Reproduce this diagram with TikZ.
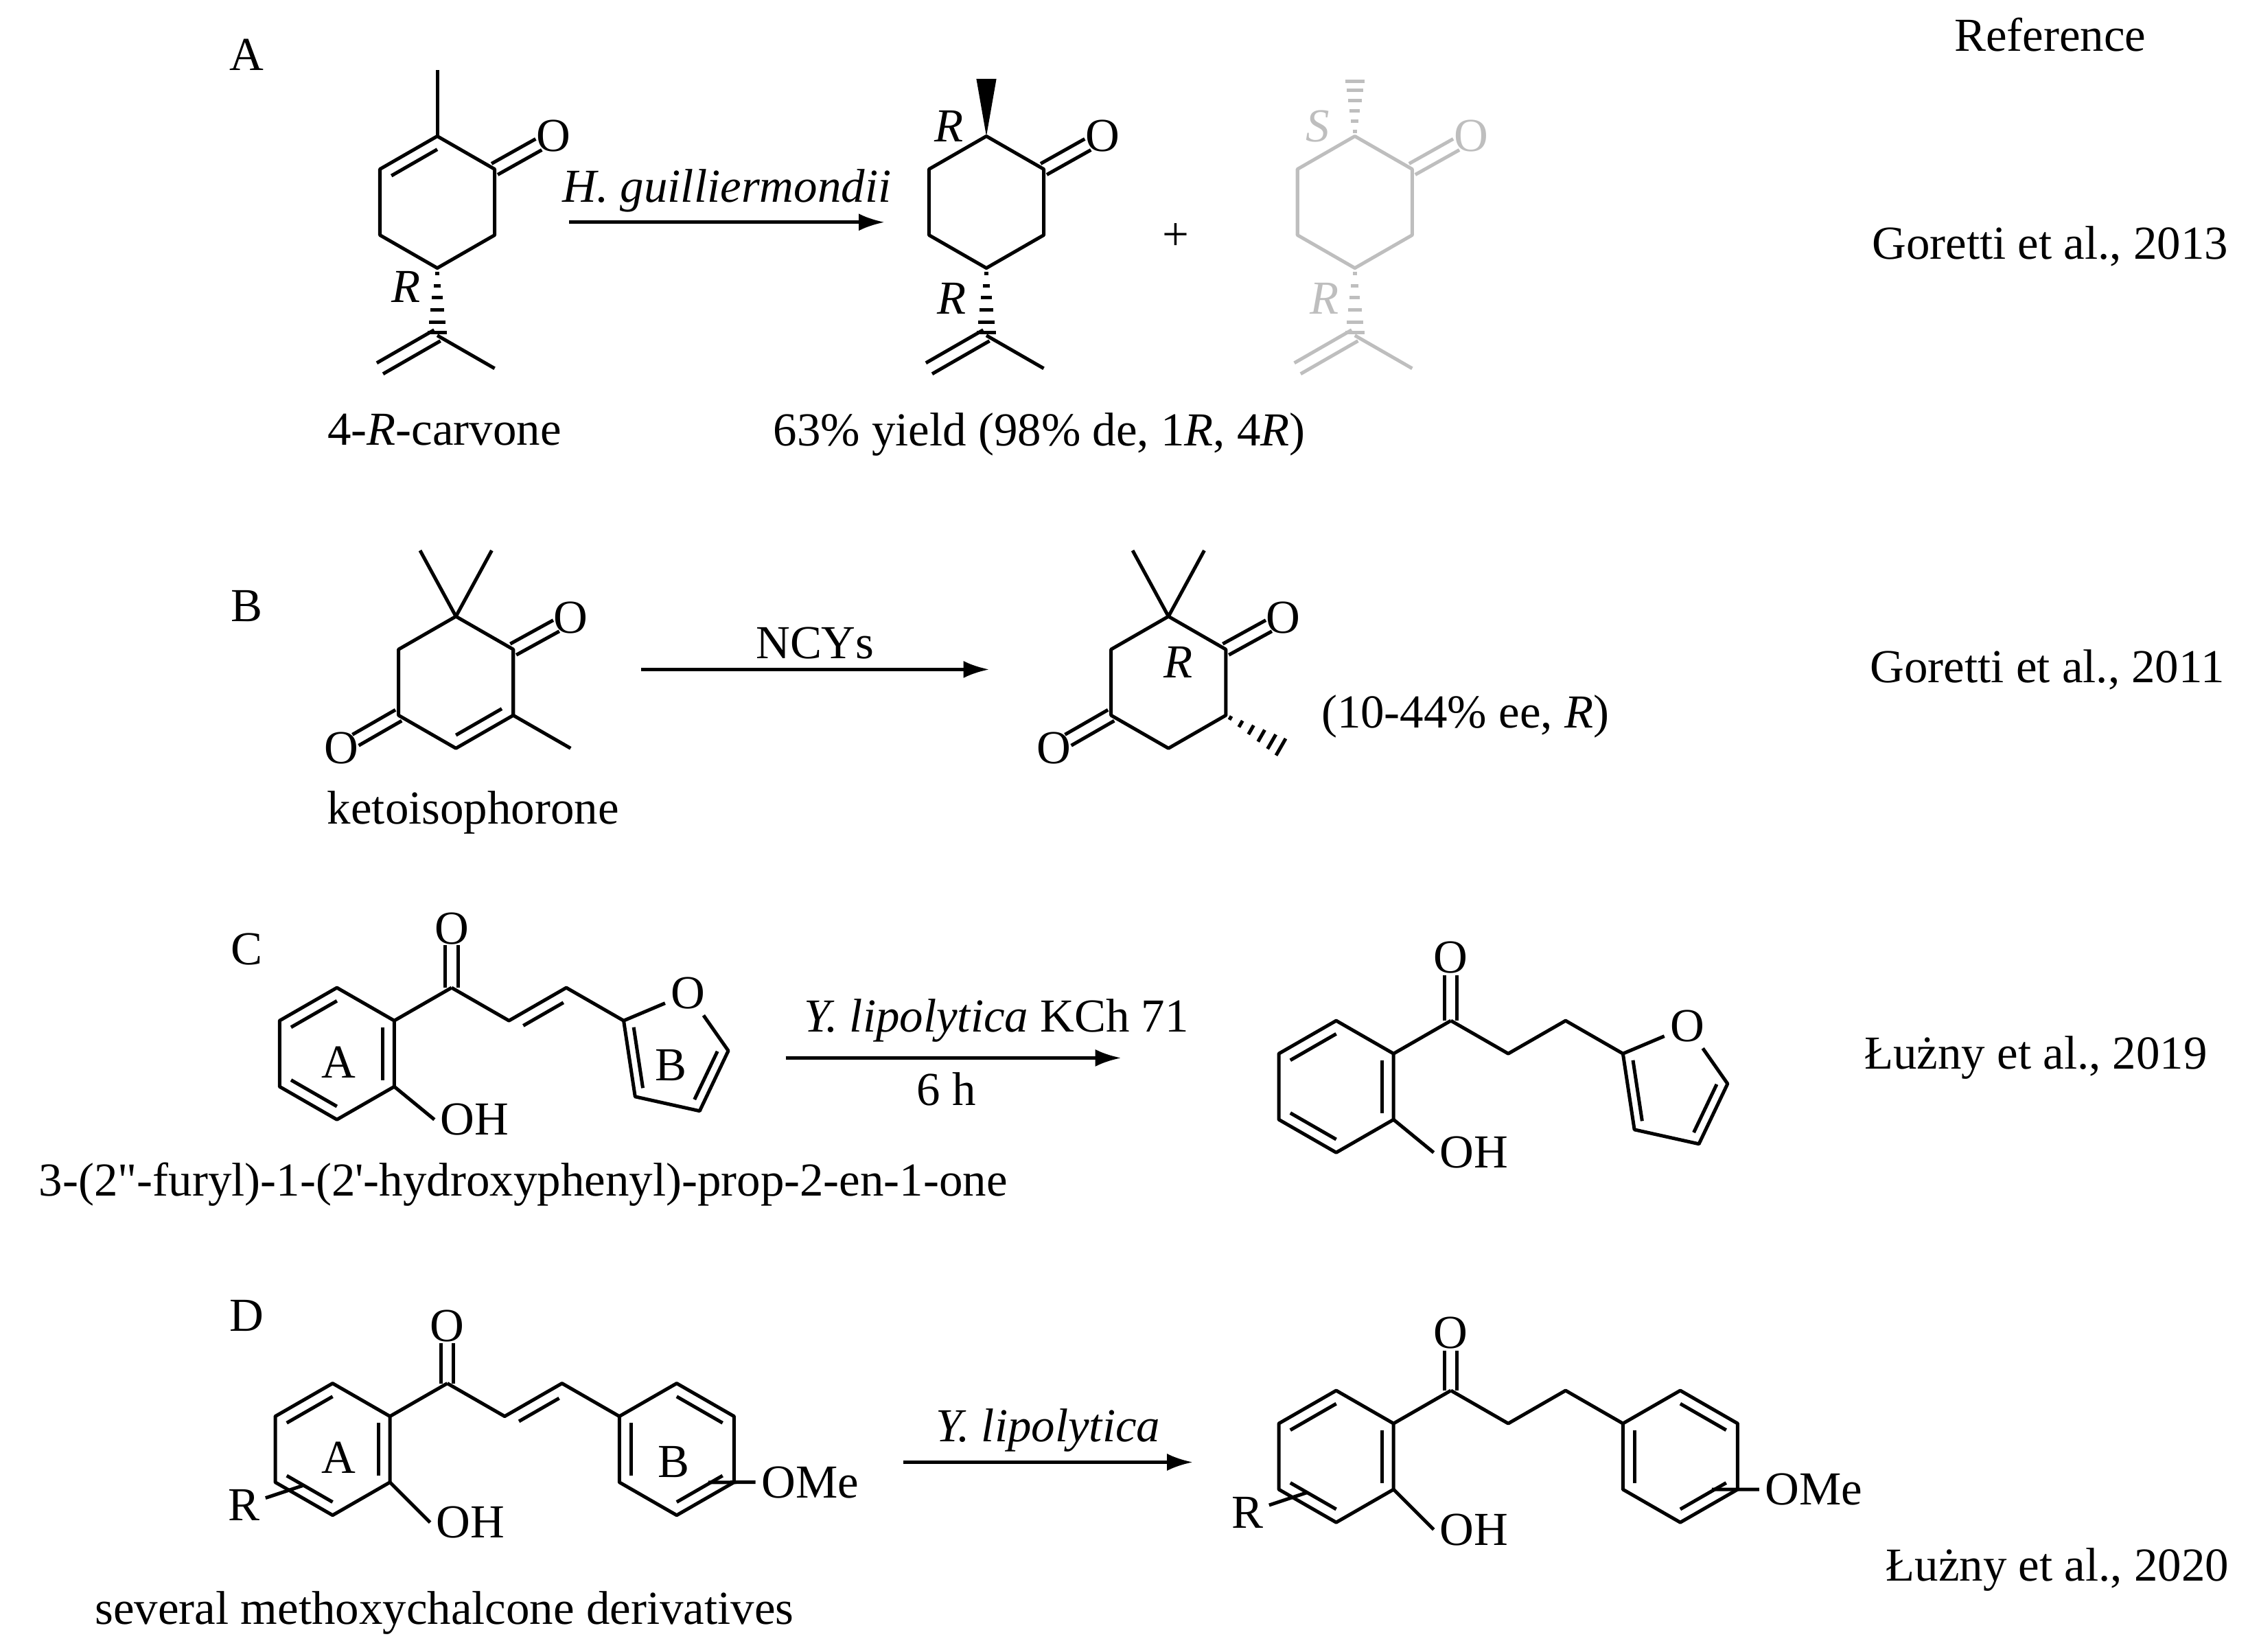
\documentclass[tikz,border=0pt]{standalone}
\usepackage{fontspec}
\setmainfont{Liberation Serif}
\newfontfamily\qf{Liberation Serif}
\usetikzlibrary{calc,arrows.meta}
\definecolor{lg}{RGB}{190,190,190}
\newcommand\din[3]{\draw ($(#1)!0.2!(#3)$) -- ($(#2)!0.2!(#3)$);}
\newcommand\dbl[3]{\draw ($(#1)!#3!90:(#2)$) -- ($(#2)!#3!-90:(#1)$);\draw ($(#1)!#3!-90:(#2)$) -- ($(#2)!#3!90:(#1)$);}
\newcommand\sdb[2]{\draw ($($(#1)!0.15!(#2)$)!4pt!-90:(#2)$) -- ($($(#2)!0.15!(#1)$)!4pt!90:(#1)$);}
\newcommand\hsh[2]{\foreach \t in {0.08,0.26,0.44,0.62,0.8,0.96}{\pgfmathsetmacro\w{0.5+3*\t}\draw ($($(#1)!\t!(#2)$)!\w pt!90:(#2)$) -- ($($(#1)!\t!(#2)$)!\w pt!-90:(#2)$);}}
\newcommand\wdg[2]{\fill (#1) -- ($(#2)!3.5pt!90:(#1)$) -- ($(#2)!3.5pt!-90:(#1)$) -- cycle;}
\newcommand\hexa[3]{%
 \coordinate (#1t) at (#2,#3);
 \coordinate (#1ur) at (#2+40,#3+23);
 \coordinate (#1lr) at (#2+40,#3+69);
 \coordinate (#1b) at (#2,#3+92);
 \coordinate (#1ll) at (#2-40,#3+69);
 \coordinate (#1ul) at (#2-40,#3+23);
 \coordinate (#1c) at (#2,#3+46);
 \draw (#1t)--(#1ur)--(#1lr)--(#1b)--(#1ll)--(#1ul)--cycle;}
\tikzset{txt/.style={inner sep=0pt,font=\fontsize{16.5}{19}\selectfont},
 atom/.style={inner sep=1.5pt,font=\fontsize{16.5}{19}\selectfont},
 rxn/.style={-{Latex[length=9pt,width=6pt]},line width=1.2pt}}
\begin{document}
\begin{tikzpicture}[x=0.5pt,y=-0.5pt,line width=1.2pt,line join=round]
\useasboundingbox (0,0) rectangle (1568,1152);
\node[txt] (lA) at (172,38) {A};
\node[txt] (lB) at (172,423) {B};
\node[txt] (lC) at (172,662) {C};
\node[txt] (lD) at (172,918) {D};
\node[txt] (ref) at (1430,24) {Reference};
\node[txt] (r1) at (1430,172) {Goretti et al., 2013};
\node[txt] (r2) at (1428,467) {Goretti et al., 2011};
\node[txt] (r3) at (1420,738) {Łużny et al., 2019};
\node[txt] (r4) at (1435,1095) {Łużny et al., 2020};
% ---------- A: carvone
\hexa{a}{305}{95}
\din{at}{aul}{ac}
\coordinate (ame) at (305,49); \draw (at)--(ame);
\node[atom] (aO) at (386,95) {O};
\coordinate (aOe) at ($(aur)!0.75!(aO)$); \dbl{aur}{aOe}{2.2pt}
\coordinate (ai) at (305,234); \hsh{ab}{ai}
\coordinate (aim) at (345,257); \coordinate (aic) at (265,257);
\draw (ai)--(aim); \dbl{ai}{aic}{2.2pt}
\node[txt] (aR) at (283,200) {\itshape R};
\node[txt] (aname) at (310,300) {4-\textit{R}-carvone};
\draw[rxn] (397,155) -- (617,155) node[midway,above=3pt,txt] (ac1) {\itshape H. guilliermondii};
% product 1
\hexa{p}{688}{95}
\coordinate (pme) at (688,55); \wdg{pt}{pme}
\node[atom] (pO) at (769,95) {O};
\coordinate (pOe) at ($(pur)!0.75!(pO)$); \dbl{pur}{pOe}{2.2pt}
\coordinate (pi) at (688,234); \hsh{pb}{pi}
\coordinate (pim) at (728,257); \coordinate (pic) at (648,257);
\draw (pi)--(pim); \dbl{pi}{pic}{2.2pt}
\node[txt] (pR1) at (662,88) {\itshape R};
\node[txt] (pR2) at (664,208) {\itshape R};
\node[txt] (plus) at (820,165) {+};
% product 2 (gray)
\begin{scope}[lg,draw=lg,fill=lg]
\hexa{g}{945}{95}
\coordinate (gme) at (945,55); \hsh{gt}{gme}
\node[atom,lg] (gO) at (1026,95) {O};
\coordinate (gOe) at ($(gur)!0.75!(gO)$); \dbl{gur}{gOe}{2.2pt}
\coordinate (gi) at (945,234); \hsh{gb}{gi}
\coordinate (gim) at (985,257); \coordinate (gic) at (905,257);
\draw (gi)--(gim); \dbl{gi}{gic}{2.2pt}
\node[txt,lg] (gS) at (919,88) {\itshape S};
\node[txt,lg] (gR) at (924,208) {\itshape R};
\end{scope}
\node[txt] (pname) at (725,303) {63\% yield (98\% de, 1\textit{R}, 4\textit{R})};
% ---------- B
\hexa{k}{318}{430}
\din{kb}{klr}{kc}
\node[atom] (kO1) at (398,431) {O};
\coordinate (kO1e) at ($(kur)!0.75!(kO1)$); \dbl{kur}{kO1e}{2.2pt}
\node[atom] (kO2) at (238,522) {O};
\coordinate (kO2e) at ($(kll)!0.75!(kO2)$); \dbl{kll}{kO2e}{2.2pt}
\coordinate (kme) at (398,522); \draw (klr)--(kme);
\coordinate (km1) at (293,384); \coordinate (km2) at (343,384);
\draw (km1)--(kt)--(km2);
\node[txt] (kname) at (330,567) {ketoisophorone};
\draw[rxn] (447,467) -- (690,467) node[midway,above=3pt,txt] (kc1) {NCYs};
\hexa{q}{815}{430}
\node[atom] (qO1) at (895,431) {O};
\coordinate (qO1e) at ($(qur)!0.75!(qO1)$); \dbl{qur}{qO1e}{2.2pt}
\node[atom] (qO2) at (735,522) {O};
\coordinate (qO2e) at ($(qll)!0.75!(qO2)$); \dbl{qll}{qO2e}{2.2pt}
\coordinate (qme) at (895,522); \hsh{qlr}{qme}
\coordinate (qm1) at (790,384); \coordinate (qm2) at (840,384);
\draw (qm1)--(qt)--(qm2);
\node[txt] (qR) at (822,462) {\itshape R};
\node[txt] (qname) at (1022,500) {(10-44\% ee, \textit{R})};
% ---------- C
\hexa{c}{235}{689}
\din{ct}{cul}{cc}\din{cll}{cb}{cc}\din{clr}{cur}{cc}
\node[txt] (cA) at (236,741) {A};
\node[atom,anchor=west] (cOH) at (303,781) {OH};
\draw (clr)--(cOH.west);
\coordinate (ck) at (315,689); \draw (cur)--(ck);
\node[atom] (cO) at (315,648) {O};
\coordinate (cOe) at ($(ck)!0.72!(cO)$); \dbl{ck}{cOe}{2.2pt}
\coordinate (cc1) at (355,712); \coordinate (cc2) at (395,689); \coordinate (cf2) at (435,712);
\draw (ck)--(cc1)--(cc2)--(cf2); \sdb{cc1}{cc2}
\node[atom] (cfO) at (480,693) {O};
\coordinate (cf5) at (508,733); \coordinate (cf4) at (488,775); \coordinate (cf3) at (443,765);
\coordinate (cfc) at (470,735);
\draw (cfO)--(cf5)--(cf4)--(cf3)--(cf2)--(cfO);
\din{cf2}{cf3}{cfc}\din{cf5}{cf4}{cfc}
\node[txt] (cB) at (468,743) {B};
\node[txt] (cname) at (365,826) {3-(2{\qf\symbol{34}}-furyl)-1-(2{\qf\symbol{39}}-hydroxyphenyl)-prop-2-en-1-one};
\draw[rxn] (548,738) -- (782,738);
\node[txt] (cc3) at (695,712) {\textit{Y. lipolytica} KCh 71};
\node[txt] (cc4) at (660,760) {6 h};
% product C
\hexa{d}{932}{712}
\din{dt}{dul}{dc}\din{dll}{db}{dc}\din{dlr}{dur}{dc}
\node[atom,anchor=west] (dOH) at (1000,804) {OH};
\draw (dlr)--(dOH.west);
\coordinate (dk) at (1012,712); \draw (dur)--(dk);
\node[atom] (dO) at (1012,668) {O};
\coordinate (dOe) at ($(dk)!0.72!(dO)$); \dbl{dk}{dOe}{2.2pt}
\coordinate (dc1) at (1052,735); \coordinate (dc2) at (1092,712); \coordinate (df2) at (1132,735);
\draw (dk)--(dc1)--(dc2)--(df2);
\node[atom] (dfO) at (1177,716) {O};
\coordinate (df5) at (1205,756); \coordinate (df4) at (1185,798); \coordinate (df3) at (1140,788);
\coordinate (dfc) at (1167,758);
\draw (dfO)--(df5)--(df4)--(df3)--(df2)--(dfO);
\din{df2}{df3}{dfc}\din{df5}{df4}{dfc}
% ---------- D
\hexa{e}{232}{965}
\din{et}{eul}{ec}\din{ell}{eb}{ec}\din{elr}{eur}{ec}
\node[txt] (eA) at (236,1017) {A};
\node[atom,anchor=west] (eOH) at (300,1062) {OH};
\draw (elr)--(eOH.west);
\node[atom] (eR) at (170,1050) {R};
\draw (eR) -- ($(ell)!0.35!(eb)+(6,-6)$);
\coordinate (ek) at (312,965); \draw (eur)--(ek);
\node[atom] (eO) at (312,925) {O};
\coordinate (eOe) at ($(ek)!0.7!(eO)$); \dbl{ek}{eOe}{2.2pt}
\coordinate (ec1) at (352,988); \coordinate (ec2) at (392,965);
\hexa{f}{472}{965}
\draw (ek)--(ec1)--(ec2)--(ful); \sdb{ec1}{ec2}
\din{ft}{fur}{fc}\din{flr}{fb}{fc}\din{fll}{ful}{fc}
\node[txt] (fB) at (470,1020) {B};
\node[atom,anchor=west] (fOMe) at (527,1034) {OMe};
\draw ($(flr)!0.35!(fb)+(-4,-8)$) -- (fOMe.west);
\node[txt] (ename) at (310,1125) {several methoxychalcone derivatives};
\draw[rxn] (630,1020) -- (832,1020) node[midway,above=3pt,txt] (ec3) {\itshape Y. lipolytica};
% product D
\hexa{g}{932}{970}
\din{gt}{gul}{gc}\din{gll}{gb}{gc}\din{glr}{gur}{gc}
\node[atom,anchor=west] (gOH) at (1000,1067) {OH};
\draw (glr)--(gOH.west);
\node[atom] (gR2) at (870,1055) {R};
\draw (gR2) -- ($(gll)!0.35!(gb)+(6,-6)$);
\coordinate (gk) at (1012,970); \draw (gur)--(gk);
\node[atom] (gO2) at (1012,930) {O};
\coordinate (gOe2) at ($(gk)!0.7!(gO2)$); \dbl{gk}{gOe2}{2.2pt}
\coordinate (gc1) at (1052,993); \coordinate (gc2) at (1092,970);
\hexa{h}{1172}{970}
\draw (gk)--(gc1)--(gc2)--(hul);
\din{ht}{hur}{hc}\din{hlr}{hb}{hc}\din{hll}{hul}{hc}
\node[atom,anchor=west] (hOMe) at (1227,1039) {OMe};
\draw ($(hlr)!0.35!(hb)+(-4,-8)$) -- (hOMe.west);
\end{tikzpicture}
\end{document}
